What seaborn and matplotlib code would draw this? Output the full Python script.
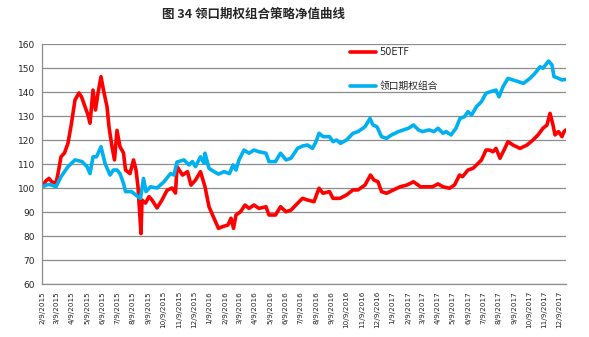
import matplotlib
matplotlib.use("Agg")
import matplotlib.pyplot as plt
import matplotlib.dates as mdates
import seaborn as sns
import pandas as pd

etf_dates = ["2015-02-09","2015-02-16","2015-02-22","2015-02-28","2015-03-08","2015-03-12","2015-03-18","2015-03-25",
 "2015-04-01","2015-04-08","2015-04-15","2015-04-23","2015-04-28","2015-05-05","2015-05-11","2015-05-15","2015-05-21",
 "2015-05-26","2015-05-31","2015-06-06","2015-06-11","2015-06-18","2015-06-22","2015-06-28","2015-07-03","2015-07-08",
 "2015-07-14","2015-07-21","2015-07-25","2015-08-03","2015-08-10","2015-08-15","2015-08-19","2015-08-25","2015-08-27",
 "2015-09-03","2015-09-10","2015-09-16","2015-09-26","2015-10-06","2015-10-16","2015-10-26","2015-11-02","2015-11-05",
 "2015-11-16","2015-11-26","2015-12-03","2015-12-12","2015-12-22","2015-12-31","2016-01-08","2016-01-18","2016-01-27",
 "2016-02-04","2016-02-15","2016-02-21","2016-02-26","2016-03-02","2016-03-11","2016-03-20","2016-03-28","2016-04-07",
 "2016-04-17","2016-05-01","2016-05-07","2016-05-20","2016-05-30","2016-06-10","2016-06-20","2016-07-03","2016-07-13",
 "2016-07-23","2016-08-05","2016-08-15","2016-08-23","2016-09-05","2016-09-12","2016-09-26","2016-10-09","2016-10-22",
 "2016-11-01","2016-11-15","2016-11-26","2016-12-03","2016-12-11","2016-12-18","2016-12-28","2017-01-11","2017-01-24",
 "2017-02-07","2017-02-20","2017-03-06","2017-03-17","2017-03-30","2017-04-10","2017-04-20","2017-05-03","2017-05-13",
 "2017-05-23","2017-05-29","2017-06-09","2017-06-19","2017-06-26","2017-07-06","2017-07-15","2017-07-22","2017-07-29",
 "2017-08-04","2017-08-12","2017-08-20","2017-08-28","2017-09-07","2017-09-21","2017-10-05","2017-10-17","2017-10-27",
 "2017-11-06","2017-11-14","2017-11-20","2017-11-26","2017-11-30","2017-12-07","2017-12-14","2017-12-18","2017-12-22"]
etf_values = [101,103,104,102.5,102,106,113,114.6,
 118.7,127,136.7,139.6,138,133.9,130.4,127,140.8,
 132.5,139.5,146.4,140.8,133.9,125.5,117.2,111.7,124,
 117.2,114.6,107.5,106,111.7,107.5,100.5,81,95,
 93.7,96.4,95,91.7,95,99,100,97.9,108.9,
 105.4,106.8,101.2,103.3,106.8,100.5,92.2,87.4,83.2,
 83.9,84.6,87.4,83.2,88.75,90.1,92.9,91.5,92.9,
 91.5,92.2,88.75,88.75,92.2,90.1,90.8,93.6,95.7,
 95,94.3,99.9,97.8,98.5,95.7,95.7,97.1,99.2,
 99.2,101.25,105.4,103.3,102.6,98.5,97.8,99.2,100.5,
 101.25,102.6,100.5,100.5,100.5,101.7,100.5,99.9,101.25,
 105.4,104.7,107.5,108.2,109.6,111.7,115.8,115.8,115.1,
 116.5,112.4,115.8,119.3,117.9,116.5,117.9,120,122.1,
 124.9,126.25,131.1,126.25,122.1,123.5,121.4,123.5,124.2]

collar_dates = ["2015-02-09","2015-02-20","2015-02-28","2015-03-08","2015-03-18","2015-04-01","2015-04-15","2015-04-29",
 "2015-05-09","2015-05-15","2015-05-21","2015-05-28","2015-06-06","2015-06-14","2015-06-24","2015-07-01","2015-07-08",
 "2015-07-14","2015-07-21","2015-07-25","2015-08-06","2015-08-19","2015-08-24","2015-08-30","2015-09-04","2015-09-13",
 "2015-09-26","2015-10-10","2015-10-23","2015-10-30","2015-11-05","2015-11-19","2015-11-29","2015-12-06","2015-12-12",
 "2015-12-22","2015-12-29","2015-12-31","2016-01-08","2016-01-18","2016-01-27","2016-02-07","2016-02-18","2016-02-25",
 "2016-03-02","2016-03-08","2016-03-18","2016-03-28","2016-04-07","2016-04-17","2016-05-01","2016-05-07","2016-05-20",
 "2016-05-30","2016-06-10","2016-06-20","2016-07-03","2016-07-13","2016-07-23","2016-08-02","2016-08-09","2016-08-15",
 "2016-08-23","2016-09-05","2016-09-12","2016-09-19","2016-09-27","2016-10-09","2016-10-22","2016-11-01","2016-11-15",
 "2016-11-25","2016-12-01","2016-12-09","2016-12-18","2016-12-28","2017-01-07","2017-01-21","2017-01-31","2017-02-10",
 "2017-02-20","2017-03-02","2017-03-10","2017-03-23","2017-04-02","2017-04-10","2017-04-20","2017-04-26","2017-05-06",
 "2017-05-16","2017-05-24","2017-06-02","2017-06-09","2017-06-16","2017-06-26","2017-07-06","2017-07-15","2017-07-25",
 "2017-08-04","2017-08-10","2017-08-18","2017-08-28","2017-09-07","2017-09-18","2017-09-28","2017-10-11","2017-10-21",
 "2017-10-31","2017-11-06","2017-11-17","2017-11-24","2017-11-28","2017-12-07","2017-12-14","2017-12-22"]
collar_values = [100.5,101.5,101.2,100.5,104.7,108.9,111.7,111,
 108.9,106,113,113,117.2,110.3,105.4,107.5,107.5,
 106,101.9,98.5,98.5,96.4,95.7,104,98.5,100.5,
 100,102.6,106,105.4,110.8,111.7,109.6,111,108.9,
 113,110.3,114.5,108.2,106.8,105.8,106.8,106,109.6,
 107.5,111.7,115.8,114.5,115.8,115.1,114.5,111,111,
 114.5,111.7,112.4,116.5,117.5,117.9,116.5,119.3,122.8,
 121.4,121.4,119.3,120,118.6,120,122.8,123.5,125.5,
 129,126.25,125.5,121.4,120.7,122.1,123.5,124.2,124.9,
 126.25,124.2,123.5,124.2,123.5,124.9,122.8,123.5,122.1,
 124.9,129,129.7,131.8,130.4,133.9,136,139.5,140.2,
 140.8,138,142.2,145.7,145,144.3,143.6,145.7,147.8,
 150.5,149.9,152.9,151.25,146.4,145.7,145,145.3]

series_names = ["50ETF", "领口期权组合"]
series_colors = ["#FF0000", "#00B0F0"]
y_ticks = list(range(60, 161, 10))
title_text = "图 34 领口期权组合策略净值曲线"

sns.set_style("white")
plt.rcParams['font.family'] = ['DejaVu Sans', 'Noto Sans CJK SC']

df = pd.concat([
    pd.DataFrame({"date": pd.to_datetime(etf_dates), "value": etf_values, "series": series_names[0]}),
    pd.DataFrame({"date": pd.to_datetime(collar_dates), "value": collar_values, "series": series_names[1]}),
], ignore_index=True)

fig = plt.figure(figsize=(5.89, 3.37), dpi=100)
ax = fig.add_axes([42/589, 1-284/337, (566-42)/589, 240/337])

sns.lineplot(data=df, x="date", y="value", hue="series", hue_order=series_names,
             palette=dict(zip(series_names, series_colors)), linewidth=2.6,
             estimator=None, sort=True, legend=False, ax=ax)

ax.set_ylim(60, 160)
ax.set_yticks(y_ticks)
ax.set_xlim(pd.Timestamp("2015-02-08"), pd.Timestamp("2017-12-22"))
ax.xaxis.set_major_locator(mdates.MonthLocator(bymonthday=9))
ax.xaxis.set_major_formatter(mdates.DateFormatter("%-m/%-d/%Y"))
ax.set_xlabel("")
ax.set_ylabel("")
ax.grid(axis="y", color="#8C8C8C", linewidth=0.9)
ax.grid(axis="x", visible=False)
ax.set_axisbelow(True)
for s in ["top", "right"]:
    ax.spines[s].set_visible(False)
for s in ["left", "bottom"]:
    ax.spines[s].set_color("#8C8C8C")
    ax.spines[s].set_linewidth(0.9)
ax.tick_params(axis="y", direction="out", length=3, width=0.8, color="#8C8C8C", labelsize=6.5, pad=2)
ax.tick_params(axis="x", direction="out", length=3, width=0.8, color="#8C8C8C", labelsize=5.2, pad=2, labelrotation=90)

lines = ax.get_lines()[:2]
leg = ax.legend(lines, series_names, loc="upper left", bbox_to_anchor=((350-42)/524, (284-47)/240),
                frameon=False, borderpad=0, borderaxespad=0, handlelength=2.7, handletextpad=0.3,
                labelspacing=2.5, prop={"family": ["DejaVu Sans", "Noto Sans CJK SC"], "size": 7})

fig.text(253/589, 1-14/337, title_text, ha="center", va="center", fontsize=9, fontweight="bold",
         family=["Noto Sans CJK SC", "DejaVu Sans"])

fig.savefig("out.png", dpi=100)
